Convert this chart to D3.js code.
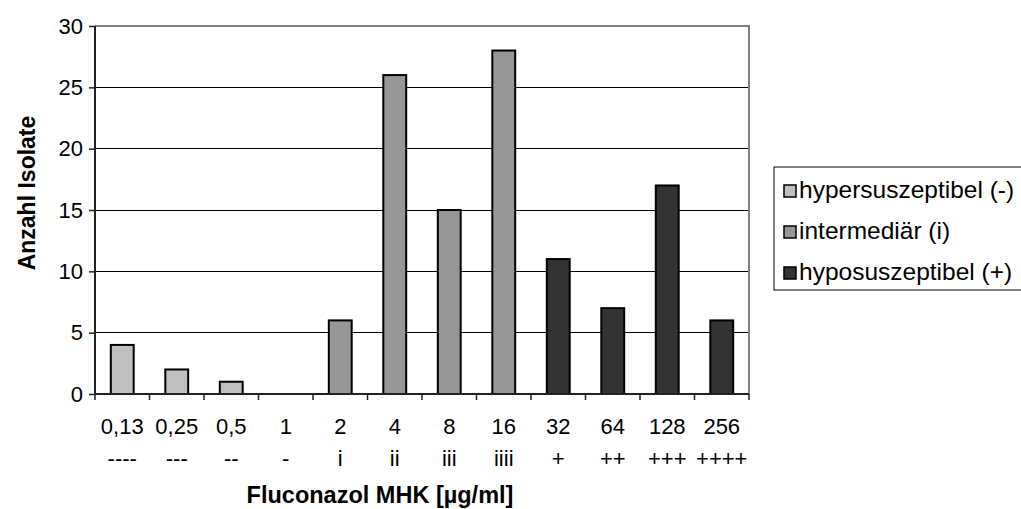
<!DOCTYPE html>
<html>
<head>
<meta charset="utf-8">
<script src="https://cdn.jsdelivr.net/npm/d3@7"></script>
<style>
  html, body { margin: 0; padding: 0; background: #fff; }
  svg { display: block; font-family: Arial, "Liberation Sans", sans-serif; }
</style>
</head>
<body>
<svg id="chart" width="1021" height="509"></svg>
<script>
// MIC classes (Fluconazol, µg/ml) with the susceptibility code shown beneath each
const concentrations = ["0,13", "0,25", "0,5", "1", "2", "4", "8", "16", "32", "64", "128", "256"];
const codes = ["----", "---", "--", "-", "i", "ii", "iii", "iiii", "+", "++", "+++", "++++"];
// number of isolates per class
const counts = [4, 2, 1, 0, 6, 26, 15, 28, 11, 7, 17, 6];
// susceptibility group for each class
const groups = ["hyper", "hyper", "hyper", "hyper", "inter", "inter", "inter", "inter", "hypo", "hypo", "hypo", "hypo"];
const groupKeys = ["hyper", "inter", "hypo"];
const groupLabels = ["hypersuszeptibel (-)", "intermediär (i)", "hyposuszeptibel (+)"];
const yTicks = [0, 5, 10, 15, 20, 25, 30];

const svg = d3.select("#chart");
const plot = { left: 95, right: 749, top: 26, bottom: 394 };

const color = d3.scaleOrdinal().domain(groupKeys).range(["#c0c0c0", "#969696", "#333333"]);

const x = d3.scaleBand()
  .domain(concentrations)
  .range([plot.left, plot.right])
  .paddingInner(0.58)
  .paddingOuter(0.29);

const y = d3.scaleLinear().domain([0, 30]).range([plot.bottom, plot.top]);

// horizontal grid lines
svg.append("g")
  .selectAll("line")
  .data(yTicks.filter(d => d > 0 && d < 30))
  .join("line")
  .attr("x1", plot.left).attr("x2", plot.right)
  .attr("y1", d => y(d)).attr("y2", d => y(d))
  .attr("stroke", "#000").attr("stroke-width", 1)
  .attr("shape-rendering", "crispEdges");

// plot area frame (top and right)
svg.append("path")
  .attr("d", `M${plot.left},${y(30)}H${plot.right}V${plot.bottom}`)
  .attr("fill", "none").attr("stroke", "#808080").attr("stroke-width", 2);

// bars
svg.append("g")
  .selectAll("rect")
  .data(counts.map((v, i) => ({ c: concentrations[i], v, g: groups[i] })).filter(d => d.v > 0))
  .join("rect")
  .attr("x", d => x(d.c))
  .attr("width", x.bandwidth())
  .attr("y", d => y(d.v))
  .attr("height", d => y(0) - y(d.v))
  .attr("fill", d => color(d.g))
  .attr("stroke", "#000").attr("stroke-width", 2);

// y axis
const yAxis = svg.append("g")
  .attr("transform", `translate(${plot.left},0)`)
  .call(d3.axisLeft(y).tickValues(yTicks).tickSize(6).tickPadding(6).tickFormat(d3.format("d")));
yAxis.select(".domain").attr("stroke", "#222").attr("stroke-width", 2).attr("d", `M-0,${plot.top}V${plot.bottom}`);
yAxis.selectAll(".tick line").attr("stroke", "#222").attr("stroke-width", 1.5);
yAxis.selectAll(".tick text").attr("font-size", 22).attr("fill", "#000").attr("font-family", "Arial, 'Liberation Sans', sans-serif");

// x axis: line with tick marks at the category boundaries
const step = x.step();
const bounds = d3.range(concentrations.length + 1).map(i => plot.left + i * step);
svg.append("line")
  .attr("x1", plot.left).attr("x2", plot.right)
  .attr("y1", plot.bottom).attr("y2", plot.bottom)
  .attr("stroke", "#222").attr("stroke-width", 2);
svg.append("g")
  .selectAll("line")
  .data(bounds)
  .join("line")
  .attr("x1", d => d).attr("x2", d => d)
  .attr("y1", plot.bottom).attr("y2", plot.bottom + 6)
  .attr("stroke", "#222").attr("stroke-width", 1.5);

// category labels: concentration and code
const catLabels = svg.append("g").attr("font-size", 22).attr("text-anchor", "middle").attr("fill", "#000");
catLabels.selectAll("text.conc")
  .data(concentrations)
  .join("text")
  .attr("class", "conc")
  .attr("x", d => x(d) + x.bandwidth() / 2)
  .attr("y", 434)
  .text(d => d);
catLabels.selectAll("text.code")
  .data(codes)
  .join("text")
  .attr("class", "code")
  .attr("x", (d, i) => x(concentrations[i]) + x.bandwidth() / 2)
  .attr("y", 466)
  .text(d => d);

// axis titles
svg.append("text")
  .attr("x", 380).attr("y", 503)
  .attr("text-anchor", "middle")
  .attr("font-size", 23.5).attr("font-weight", "bold")
  .text("Fluconazol MHK [µg/ml]");

svg.append("text")
  .attr("transform", "translate(35,193) rotate(-90)")
  .attr("text-anchor", "middle")
  .attr("font-size", 23).attr("font-weight", "bold")
  .text("Anzahl Isolate");

// legend
const legend = svg.append("g").attr("transform", "translate(774,167)");
legend.append("rect")
  .attr("x", 0).attr("y", 0).attr("width", 250).attr("height", 123)
  .attr("fill", "#fff").attr("stroke", "#000").attr("stroke-width", 1);
const items = legend.selectAll("g.item")
  .data(groupKeys)
  .join("g")
  .attr("class", "item")
  .attr("transform", (d, i) => `translate(0,${31 + i * 41})`);
items.append("rect")
  .attr("x", 10).attr("y", -13).attr("width", 12).attr("height", 12)
  .attr("fill", d => color(d)).attr("stroke", "#000").attr("stroke-width", 1.5);
items.append("text")
  .attr("x", 25).attr("y", 0)
  .attr("font-size", 24.5)
  .text((d, i) => groupLabels[i]);
</script>
</body>
</html>
